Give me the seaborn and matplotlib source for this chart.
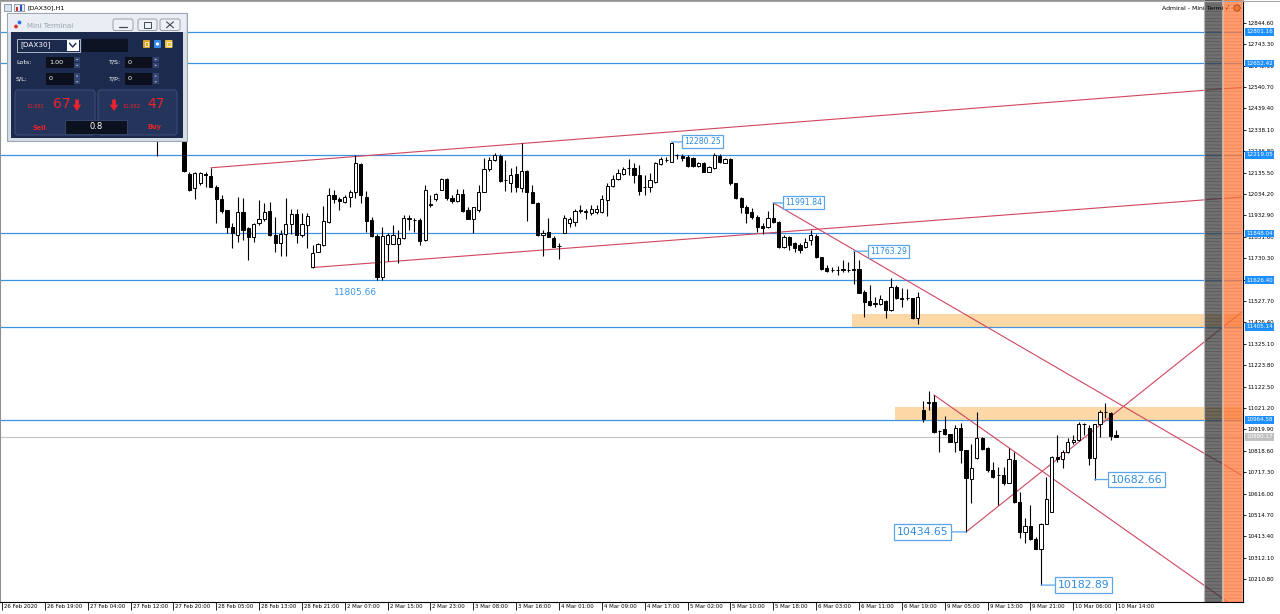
import numpy as np
import pandas as pd
import matplotlib
matplotlib.use("Agg")
import matplotlib.pyplot as plt
import matplotlib.transforms as mtrans
from matplotlib.patches import Rectangle, FancyBboxPatch, Circle, Polygon
import seaborn as sns

# ---------------- data ----------------
nan = np.nan
bar_index = list(range(29, 209))
opens = [12330, nan, nan, nan, nan,
         12290, 12130, 12060, 12085, 12130, 12120, 12065, 12009, 11957, 11879,
         11840, 11950, 11871, 11832, 11895, 11914, 11953, 11840, 11800, 11843,
         11890, 11939, 11840, 11885, 11687, 11761, 11792, 11903, 12029, 12010,
         11995, 12021, 12045, 12176, 12021, 11910, 11835, 11643, 11797, 11795,
         11797, 11825, 11915, 11913, 11910, 11816, 11985, 12010, 12053, 12103,
         12017, 12002, 12034, 11958, 11914, 11958, 12045, 12150, 12195, 12215,
         12100, 12088, 12128, 12061, 12145, 12045, 11993, 11840, 11855, 11825,
         11787, 11848, 11899, 11903, 11955, 11950, 11942, 11950, 11950, 12005,
         12071, 12103, 12128, 12155, 12155, 12124, 12068, 12065, 12092, 12176,
         12193, 12187, 12220, 12213, 12207, 12203, 12166, 12182, 12140, 12155,
         12213, 12182, 12198, 12084, 12013, 11971, 11950, 11923, 11882, 11879,
         11918, 11903, 11782, 11832, 11800, 11792, 11785, 11816, 11835, 11734,
         11682, 11676, 11674, 11676, 11676, 11672, 11678, 11571, 11528, 11513,
         11513, 11528, 11485, 11595, 11540, 11540, 11540, 11445, 11011, 11045,
         11050, 10912, 10920, 10896, 10861, 10928, 10822, 10685, 10783, 10878,
         10830, 10727, 10703, 10703, 10664, 10775, 10575, 10433, 10464, 10401,
         10354, 10471, 10528, 10790, 10779, 10814, 10861, 10869, 10944, 10928,
         10786, 10944, 11004, 10996, 10893]
highs = [12345, nan, nan, nan, nan,
         12300, 12140, 12140, 12138, 12140, 12158, 12076, 12030, 11960, 11895,
         12021, 12014, 11880, 11895, 12005, 11993, 11998, 11926, 11863, 12016,
         11961, 11961, 11942, 11942, 11792, 11803, 11977, 12061, 12053, 12021,
         12029, 12053, 12219, 12180, 12050, 11923, 11845, 11879, 11848, 11887,
         11863, 11934, 11934, 11918, 11918, 12076, 12029, 12040, 12108, 12108,
         12030, 12056, 12056, 11973, 11973, 12076, 12203, 12207, 12230, 12223,
         12195, 12155, 12166, 12274, 12147, 12076, 11997, 11863, 11918, 11835,
         11800, 11934, 11923, 11961, 11982, 11961, 11982, 11982, 12029, 12084,
         12124, 12150, 12160, 12198, 12179, 12171, 12124, 12132, 12187, 12207,
         12210, 12280.25, 12223, 12225, 12219, 12210, 12187, 12187, 12166, 12226,
         12223, 12203, 12203, 12087, 12021, 11982, 11966, 11934, 11898, 11955,
         11991.84, 11907, 11840, 11835, 11808, 11800, 11825, 11863, 11845, 11737,
         11698, 11690, 11693, 11721, 11710, 11763.29, 11721, 11579, 11603, 11547,
         11555, 11532, 11635, 11603, 11587, 11583, 11543, 11571, 11054, 11102,
         11083, 10917, 10985, 10900, 10940, 10948, 10822, 10853, 11004, 10885,
         10838, 10767, 10744, 10744, 10830, 10815, 10625, 10502, 10562, 10412,
         10475, 10695, 10795, 10893, 10822, 10877, 10893, 10953, 10948, 10940,
         10944, 11011, 11044, 11004, 10917]
lows = [12213, nan, nan, nan, nan,
        12140, 12050, 12010, 12076, 12065, 12065, 11895, 11945, 11848, 11777,
        11808, 11816, 11721, 11808, 11885, 11905, 11835, 11761, 11740, 11740,
        11843, 11800, 11832, 11777, 11686, 11758, 11790, 11895, 11993, 11958,
        11993, 11971, 12014, 11990, 11855, 11832, 11627, 11627, 11718, 11795,
        11708, 11820, 11863, 11855, 11792, 11812, 11971, 12002, 12052, 12005,
        11990, 11997, 11950, 11914, 11851, 11950, 12045, 12144, 12191, 12092,
        12050, 12045, 12045, 12045, 11905, 11990, 11835, 11740, 11830, 11782,
        11725, 11848, 11879, 11882, 11942, 11914, 11934, 11938, 11945, 11930,
        12065, 12100, 12124, 12124, 12084, 12029, 12029, 12045, 12087, 12171,
        12187, 12187, 12198, 12190, 12162, 12160, 12160, 12140, 12140, 12152,
        12179, 12179, 12076, 12009, 11945, 11895, 11914, 11855, 11845, 11871,
        11898, 11777, 11777, 11769, 11761, 11756, 11777, 11792, 11730, 11674,
        11666, 11666, 11650, 11666, 11666, 11610, 11564, 11453, 11503, 11500,
        11508, 11445, 11482, 11535, 11500, 11532, 11440, 11420, 10954, 11010,
        10905, 10815, 10894, 10858, 10811, 10760, 10434.65, 10570, 10780, 10822,
        10720, 10688, 10562, 10656, 10664, 10570, 10404, 10380, 10396, 10354,
        10182.89, 10471, 10528, 10767, 10738, 10806, 10853, 10865, 10893, 10751,
        10682.66, 10885, 10974, 10870, 10885]
closes = [12300, nan, nan, nan, nan,
          12145, 12055, 12135, 12132, 12125, 12068, 12009, 11955, 11879, 11848,
          11950, 11863, 11832, 11890, 11914, 11950, 11840, 11800, 11845, 11890,
          11939, 11840, 11890, 11930, 11753, 11797, 11907, 12029, 12009, 12000,
          12018, 12045, 12179, 12029, 11907, 11835, 11643, 11835, 11840, 11840,
          11825, 11918, 11918, 11910, 11812, 12053, 11983, 12033, 12103, 12013,
          12001, 12034, 11954, 11914, 11970, 12045, 12150, 12195, 12219, 12097,
          12098, 12124, 12065, 12145, 12045, 11993, 11840, 11848, 11832, 11785,
          11787, 11918, 11914, 11955, 11957, 11952, 11961, 11961, 12009, 12071,
          12103, 12135, 12150, 12155, 12124, 12050, 12068, 12100, 12179, 12198,
          12195, 12277, 12218, 12202, 12166, 12166, 12179, 12140, 12160, 12218,
          12187, 12198, 12084, 12013, 11971, 11942, 11923, 11879, 11871, 11918,
          11903, 11785, 11832, 11792, 11777, 11769, 11808, 11840, 11734, 11678,
          11670, 11674, 11672, 11680, 11672, 11680, 11567, 11524, 11508, 11520,
          11537, 11485, 11592, 11540, 11538, 11542, 11445, 11545, 10969, 11050,
          10909, 10910, 10900, 10861, 10928, 10822, 10688, 10738, 10878, 10827,
          10727, 10695, 10703, 10664, 10779, 10575, 10433, 10464, 10401, 10354,
          10471, 10590, 10790, 10779, 10811, 10861, 10869, 10944, 10944, 10786,
          10944, 11004, 11004, 10890, 10885]

time_tick_bars = list(range(0, 209, 8))
time_tick_labels = ["26 Feb 2020", "26 Feb 19:00", "27 Feb 04:00", "27 Feb 12:00",
                    "27 Feb 20:00", "28 Feb 05:00", "28 Feb 13:00", "28 Feb 21:00",
                    "2 Mar 07:00", "2 Mar 15:00", "2 Mar 23:00", "3 Mar 08:00",
                    "3 Mar 16:00", "4 Mar 01:00", "4 Mar 09:00", "4 Mar 17:00",
                    "5 Mar 02:00", "5 Mar 10:00", "5 Mar 18:00", "6 Mar 03:00",
                    "6 Mar 11:00", "6 Mar 19:00", "9 Mar 05:00", "9 Mar 13:00",
                    "9 Mar 21:00", "10 Mar 06:00", "10 Mar 14:00"]
price_ticks = [12844.60, 12743.30, 12642.00, 12540.70, 12439.40, 12338.10, 12236.80,
               12135.50, 12034.20, 11932.90, 11831.60, 11730.30, 11629.00, 11527.70,
               11426.40, 11325.10, 11223.80, 11122.50, 11021.20, 10919.90, 10818.60,
               10717.30, 10616.00, 10514.70, 10413.40, 10312.10, 10210.80]
blue_levels = [12801.16, 12652.42, 12219.05, 11848.04, 11626.40, 11405.14, 10964.58]
bid_level = 10885.0
bid_text = "10880.17"

zone_start = [158.7, 166.7]
zone_low = [11405.14, 10964.58]
zone_high = [11465.0, 11025.0]

trend_name = ["a", "a", "b", "b", "c", "c", "d", "d", "e", "e"]
trend_bar = [39, 231.7, 58, 231.7, 144, 231.7, 174, 231.7, 180, 231.7]
trend_price = [12158, 12539, 11686, 12020, 11991.84, 10700, 11083, 10052, 10434.65, 11480]

lab_text = ["12280.25", "11991.84", "11763.29", "10434.65", "10182.89", "10682.66"]
lab_bar = [125, 144, 159, 180, 194, 204]
lab_price = [12280.25, 11991.84, 11763.29, 10434.65, 10182.89, 10682.66]
note_text = "11805.66"
note_bar = 62
note_price = 11570

# ---------------- style ----------------
sns.set_theme(style="white")
plt.rcParams['font.family'] = ['DejaVu Sans']
plt.rcParams['hatch.linewidth'] = 0.5

RED = "#d2455f"
BLUE = "#3d93e3"
LBLUE = "#2f8ce0"
XMIN, XMAX = -0.373, 231.7
YMIN, YMAX = 10103.0, 12952.0
AX_W = 1243.0
PPB = AX_W / (XMAX - XMIN)

fig = plt.figure(figsize=(12.8, 6.14), dpi=100)
fig.patch.set_facecolor("white")
ax = fig.add_axes([0, 12 / 614, AX_W / 1280, 602 / 614])
ax.set_facecolor("white")
ax.set_xlim(XMIN, XMAX)
ax.set_ylim(YMIN, YMAX)

# horizontal levels
for v in blue_levels:
    ax.axhline(v, color=BLUE, lw=0.9, zorder=1)
ax.axhline(bid_level, color="#c4c4c4", lw=0.8, zorder=1)

# supply/demand zones
for s, lo, hi in zip(zone_start, zone_low, zone_high):
    ax.add_patch(Rectangle((s, lo), XMAX - s, hi - lo, fc="#f9b85d", ec="none",
                           alpha=0.55, zorder=1.5))

# trend lines (seaborn)
tl = pd.DataFrame({"name": trend_name, "bar": trend_bar, "price": trend_price})
sns.lineplot(data=tl, x="bar", y="price", units="name", estimator=None, sort=False,
             color=RED, lw=0.8, ax=ax, legend=False, zorder=2)

# candles
df = pd.DataFrame({"i": bar_index, "o": opens, "h": highs, "l": lows, "c": closes}).dropna()
ax.vlines(df["i"], df["l"], df["h"], color="black", lw=0.8, zorder=3)
up = df[df["c"] >= df["o"]]
dn = df[df["c"] < df["o"]]
ax.bar(up["i"], up["c"] - up["o"], bottom=up["o"], width=0.6, color="white",
       edgecolor="black", lw=0.7, zorder=4)
ax.bar(dn["i"], dn["o"] - dn["c"], bottom=dn["c"], width=0.6, color="black",
       edgecolor="black", lw=0.7, zorder=4)

# price labels with connectors
lab_side = [1, 1, 1, -1, 1, 1]
lab_gap_px = [10.5, 10, 14.5, 15, 14, 13.5]
lab_size = [5.6, 5.6, 5.6, 7.8, 7.8, 7.8]
for t, b, p, sd, g, fs in zip(lab_text, lab_bar, lab_price, lab_side, lab_gap_px, lab_size):
    pad_px = 0.25 * fs * 100 / 72
    ax.annotate(t, xy=(b, p), xytext=(b + sd * (g + pad_px) / PPB, p),
                ha="left" if sd > 0 else "right", va="center", fontsize=fs, color=LBLUE,
                bbox=dict(boxstyle="square,pad=0.25", fc="white", ec="#5aa6ea", lw=0.9),
                arrowprops=dict(arrowstyle="-", color="#5aa6ea", lw=0.9, shrinkA=0, shrinkB=0),
                zorder=6)
ax.text(note_bar, note_price, note_text, ha="left", va="center", fontsize=6.5,
        color="#3a95e0", zorder=6)

# indicator columns at right edge
ax.axvspan(224.4, 227.8, fc="#3a3a3a", ec="none", alpha=0.72, zorder=7)
ax.axvspan(224.4, 227.8, fc="none", ec="#202020", hatch="-----", lw=0, alpha=0.35, zorder=7.1)
ax.axvspan(228.0, 231.5, fc="#ff7a3c", ec="none", alpha=0.75, zorder=7)
ax.axvspan(228.0, 231.5, fc="none", ec="#d85a28", hatch="-----", lw=0, alpha=0.35, zorder=7.1)
for xv in (224.4, 227.8):
    ax.axvline(xv, color="#b5b5b5", lw=0.8, zorder=7.2)
for xv in (228.0, 231.5):
    ax.axvline(xv, color="#f0b090", lw=0.8, zorder=7.2)

# axes, ticks
for s in ["left", "top"]:
    ax.spines[s].set_color("#909090")
    ax.spines[s].set_linewidth(0.8)
for s in ["bottom", "right"]:
    ax.spines[s].set_color("black")
    ax.spines[s].set_linewidth(0.8)
ax.yaxis.tick_right()
ax.set_yticks(price_ticks)
ax.set_yticklabels([f"{v:.2f}" for v in price_ticks])
ax.tick_params(axis="y", right=True, left=False, length=2.5, width=0.6, pad=0.8,
               labelsize=4.1, colors="black")
ax.set_xticks(time_tick_bars)
ax.set_xticklabels(time_tick_labels)
ax.tick_params(axis="x", bottom=True, length=6, width=0.6, pad=-4.2, labelsize=3.9,
               colors="black")
off = mtrans.ScaledTranslation(2 / 100, 0, fig.dpi_scale_trans)
for lbl in ax.get_xticklabels():
    lbl.set_horizontalalignment("left")
    lbl.set_transform(lbl.get_transform() + off)
ax.set_xlabel("")
ax.set_ylabel("")

for v in blue_levels:
    ax.annotate(f"{v:.2f}", xy=(1.0, v), xycoords=("axes fraction", "data"),
                xytext=(2.2, 0), textcoords="offset points", ha="left", va="center",
                fontsize=4.1, color="white",
                bbox=dict(boxstyle="square,pad=0.22", fc="#1e8fff", ec="none"),
                annotation_clip=False, zorder=10)
ax.annotate(bid_text, xy=(1.0, bid_level), xycoords=("axes fraction", "data"),
            xytext=(2.2, 0), textcoords="offset points", ha="left", va="center",
            fontsize=4.1, color="white",
            bbox=dict(boxstyle="square,pad=0.22", fc="#c0c0c0", ec="none"),
            annotation_clip=False, zorder=10)

# ---------------- overlay: window chrome & mini terminal ----------------
ov = fig.add_axes([0, 0, 1, 1], zorder=20)
ov.set_xlim(0, 1280)
ov.set_ylim(614, 0)
ov.axis("off")
ov.patch.set_alpha(0)


def box(x0, y0, x1, y1, fc, ec="none", lw=0.0, z=1, r=None):
    if r:
        p = FancyBboxPatch((x0, y0), x1 - x0, y1 - y0,
                           boxstyle=f"round,pad=0,rounding_size={r}",
                           fc=fc, ec=ec, lw=lw, zorder=z)
    else:
        p = Rectangle((x0, y0), x1 - x0, y1 - y0, fc=fc, ec=ec, lw=lw, zorder=z)
    ov.add_patch(p)


def txt(x, y, s, fs, c, ha="left", va="center", w="normal"):
    ov.text(x, y, s, fontsize=fs, color=c, ha=ha, va=va, fontweight=w, zorder=10)


def down_arrow(cx, top, bot, w, c):
    hw = w / 2
    sw = w / 4.5
    mid = top + (bot - top) * 0.45
    ov.add_patch(Polygon([(cx - sw, top), (cx + sw, top), (cx + sw, mid), (cx + hw, mid),
                          (cx, bot), (cx - hw, mid), (cx - sw, mid)], closed=True,
                         fc=c, ec="none", zorder=9))


def tri(cx, cy, s, up, c):
    d = -s if up else s
    ov.add_patch(Polygon([(cx - s, cy - d / 2), (cx + s, cy - d / 2), (cx, cy + d / 2)],
                         closed=True, fc=c, ec="none", zorder=9))


# chart window title
ov.plot([0, 1280], [0.5, 0.5], color="#a8a8a8", lw=0.8)
box(4, 4, 11, 11, "#d8e4f0", "#6a7a90", 0.5)
box(14, 4, 24, 11, "#e8eef6", "#6a7a90", 0.5)
box(16, 6.5, 18, 10.5, "#d03030")
box(19.5, 5, 21.5, 10.5, "#3050c0")
txt(28, 8, "[DAX30],H1", 4.6, "black")
txt(1223, 8, "Admiral - Mini Termi", 4.4, "black", ha="right")
txt(1225, 8, "√", 4.6, "#7a3a10")
ov.add_patch(Circle((1237, 8), 3.2, fc="#f07830", ec="#a04010", lw=0.5, zorder=9))

# panel frame
box(7, 13, 187, 141, "#d6dde5", "#9aa5b1", 0.8, z=2)
box(8, 14, 186, 32, "#e9eef4", z=3)
box(11, 32, 183, 138, "#1c2a4e", z=3)
ov.add_patch(Circle((16, 26.5), 1.9, fc="#e03030", ec="none", zorder=9))
ov.add_patch(Circle((19.5, 22.5), 1.9, fc="#3070e0", ec="none", zorder=9))
txt(27, 25.5, "Mini Terminal", 5.0, "#98a2ad")
for x0, x1 in [(113, 133), (138, 157), (160, 180)]:
    box(x0, 19, x1, 30.5, "#eef2f6", "#8a939c", 0.6, z=4, r=2)
ov.plot([119, 127], [26.5, 26.5], color="#404850", lw=0.9, zorder=9)
box(144, 22, 151, 28, "none", "#404850", 0.7, z=9)
ov.plot([166.5, 173.5], [21.8, 27.8], color="#404850", lw=0.8, zorder=9)
ov.plot([166.5, 173.5], [27.8, 21.8], color="#404850", lw=0.8, zorder=9)

# symbol row
box(17, 38.5, 80, 51.5, "#1c2a4e", "#c8d0dc", 0.6, z=4)
txt(20, 45, "[DAX30]", 5.2, "white")
box(67, 40, 78.5, 50.5, "white", z=5)
ov.plot([69.5, 72.7, 75.9], [43.3, 47, 43.3], color="#1c2a4e", lw=1.0, zorder=9)
box(82, 39, 128, 51.5, "#0d1322", z=4)
box(143, 40, 150, 48, "#d9a22a", z=5, r=1)
box(154, 40, 161, 48, "#3a8be8", z=5, r=1)
box(165, 40, 172.5, 48, "#f0c040", z=5, r=1)
ov.add_patch(Circle((157.5, 44), 1.6, fc="white", ec="none", zorder=9))
box(145, 42, 148, 46, "none", "white", 0.5, z=9)
box(167, 42, 170.5, 46, "none", "white", 0.5, z=9)

# input rows
for (lx, ly, lab, bx0, bx1, val) in [(16, 62.5, "Lots:", 46, 73.5, "1.00"),
                                     (108, 62.5, "T/S:", 125, 152, "0"),
                                     (16, 79, "S/L:", 46, 73.5, "0"),
                                     (108, 79, "T/P:", 125, 152, "0")]:
    txt(lx, ly, lab, 4.6, "white")
    box(bx0, ly - 6, bx1, ly + 5.5, "#0b101c", z=4)
    txt(bx0 + 3, ly, val, 4.6, "white")
    box(bx1 + 0.8, ly - 6, bx1 + 6.5, ly - 0.4, "#33446e", z=4)
    box(bx1 + 0.8, ly + 0.4, bx1 + 6.5, ly + 5.5, "#33446e", z=4)
    tri(bx1 + 3.6, ly - 3.2, 1.3, True, "#c8d0e0")
    tri(bx1 + 3.6, ly + 3.0, 1.3, False, "#c8d0e0")

# sell / buy buttons
BRED = "#e8242c"
box(15, 90, 95, 135, "#24345a", "#40507c", 0.7, z=4, r=3)
box(98, 90, 177, 135, "#24345a", "#40507c", 0.7, z=4, r=3)
txt(26.5, 106.5, "10,881", 3.7, BRED)
txt(52.5, 104.5, "67", 10, BRED)
down_arrow(77, 99.5, 111, 8.5, BRED)
txt(39, 127.5, "Sell", 4.8, BRED, ha="center", w="bold")
down_arrow(114, 99.5, 111, 8.5, BRED)
txt(122.5, 106.5, "10,882", 3.7, BRED)
txt(147.5, 104.5, "47", 10, BRED)
txt(154, 127.5, "Buy", 4.8, BRED, ha="center", w="bold")
box(65, 119.5, 127, 133.5, "#0b111e", "#3a4a70", 0.6, z=6)
txt(96, 126.5, "0.8", 6.0, "white", ha="center")

fig.savefig("out.png", dpi=100, facecolor="white")
